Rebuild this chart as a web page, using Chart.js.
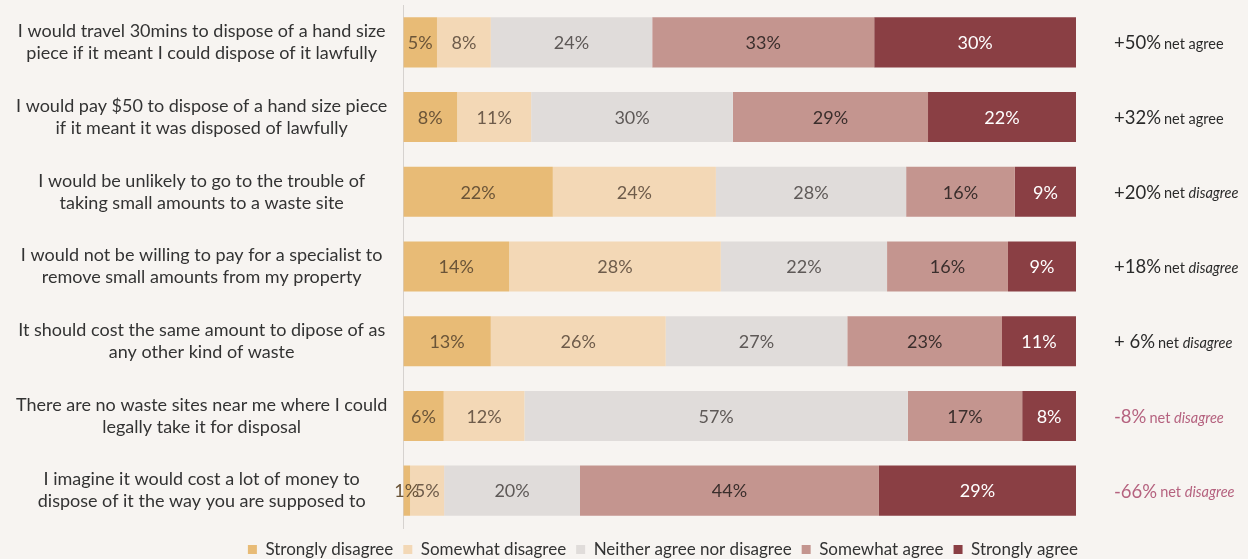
<!DOCTYPE html>
<html>
<head>
<meta charset="utf-8">
<script src="https://cdn.jsdelivr.net/npm/chart.js@4"></script>
<style>
  html, body { margin: 0; padding: 0; background: #f7f4f1; }
  #wrap { width: 1248px; height: 559px; position: relative; }
</style>
</head>
<body>
<div id="wrap"><canvas id="c"></canvas></div>
<script>
const categories = [
  ['I would travel 30mins to dispose of a hand size', 'piece if it meant I could dispose of it lawfully'],
  ['I would pay $50 to dispose of a hand size piece', 'if it meant it was disposed of lawfully'],
  ['I would be unlikely to go to the trouble of', 'taking small amounts to a waste site'],
  ['I would not be willing to pay for a specialist to', 'remove small amounts from my property'],
  ['It should cost the same amount to dipose of as', 'any other kind of waste'],
  ['There are no waste sites near me where I could', 'legally take it for disposal'],
  ['I imagine it would cost a lot of money to', 'dispose of it the way you are supposed to']
];
const seriesNames = ['Strongly disagree', 'Somewhat disagree', 'Neither agree nor disagree', 'Somewhat agree', 'Strongly agree'];
const stronglyDisagree = [5, 8, 22, 14, 13, 6, 1];
const somewhatDisagree = [8, 11, 24, 28, 26, 12, 5];
const neither = [24, 30, 28, 22, 27, 57, 20];
const somewhatAgree = [33, 29, 16, 16, 23, 17, 44];
const stronglyAgree = [30, 22, 9, 9, 11, 8, 29];
const netValues = ['+50%', '+32%', '+20%', '+18%', '+ 6%', '-8%', '-66%'];
const netWords = ['agree', 'agree', 'disagree', 'disagree', 'disagree', 'disagree', 'disagree'];

const colors = ['#e8bb76', '#f3d8b6', '#e0dcda', '#c4958f', '#8a3f44'];
const labelColors = ['#6a5438', '#6e5c4b', '#5e5957', '#3a2e2c', '#ffffff'];
const seriesValues = [stronglyDisagree, somewhatDisagree, neither, somewhatAgree, stronglyAgree];
const totals = categories.map((_, i) => seriesValues.reduce((s, arr) => s + arr[i], 0));

const FONT = 'Lato, "Noto Sans", sans-serif';

const datasets = seriesValues.map((vals, k) => ({
  label: seriesNames[k],
  data: vals.map((v, i) => v / totals[i] * 100),
  raw: vals,
  backgroundColor: colors[k],
  borderWidth: 0,
  barPercentage: 0.67,
  categoryPercentage: 1
}));

const barLabels = {
  id: 'barLabels',
  afterDatasetsDraw(chart) {
    const ctx = chart.ctx;
    ctx.save();
    ctx.font = '18px ' + FONT;
    ctx.textAlign = 'center';
    ctx.textBaseline = 'middle';
    chart.data.datasets.forEach((ds, k) => {
      const meta = chart.getDatasetMeta(k);
      meta.data.forEach((bar, i) => {
        const x = (bar.x + bar.base) / 2;
        ctx.fillStyle = labelColors[k];
        ctx.fillText(ds.raw[i] + '%', x, bar.y + 1);
      });
    });
    ctx.restore();
  }
};

const netLabels = {
  id: 'netLabels',
  afterDraw(chart) {
    const ctx = chart.ctx;
    const y = chart.scales.y;
    ctx.save();
    ctx.textBaseline = 'middle';
    ctx.textAlign = 'left';
    categories.forEach((_, i) => {
      const py = y.getPixelForValue(i) + 1;
      const neg = netValues[i].startsWith('-');
      ctx.fillStyle = neg ? '#b5627f' : '#2a2a2a';
      let x = 1114;
      ctx.font = '18.5px ' + FONT;
      ctx.fillText(netValues[i], x, py);
      x += ctx.measureText(netValues[i]).width + 3;
      ctx.font = '14.5px ' + FONT;
      ctx.fillText('net ', x, py + 1);
      x += ctx.measureText('net ').width;
      ctx.font = (netWords[i] === 'disagree' ? 'italic ' : '') + '14.5px ' + FONT;
      ctx.fillText(netWords[i], x, py + 1);
    });
    ctx.restore();
  }
};

const legendShift = {
  id: 'legendShift',
  afterLayout(chart) {
    if (chart.legend) {
      chart.legend.left += 12;
      chart.legend.right += 12;
      chart.legend.top += 3;
      chart.legend.bottom += 3;
    }
  }
};

new Chart(document.getElementById('c'), {
  type: 'bar',
  data: { labels: categories, datasets },
  options: {
    indexAxis: 'y',
    responsive: true,
    maintainAspectRatio: false,
    animation: false,
    layout: { padding: { top: 5, right: 172, left: 0, bottom: -6 } },
    scales: {
      x: { stacked: true, min: 0, max: 100, display: false },
      y: {
        stacked: true,
        grid: { display: false, drawTicks: false },
        border: { display: true, color: '#d6d2cf', width: 1 },
        ticks: {
          crossAlign: 'center',
          padding: 16,
          color: '#333333',
          font: { family: FONT, size: 18, lineHeight: 1.22 }
        },
        afterFit(scale) {
          scale.paddingTop = 0;
          scale.paddingBottom = 0;
        }
      }
    },
    plugins: {
      legend: {
        position: 'bottom',
        align: 'end',
        labels: {
          boxWidth: 9,
          boxHeight: 9,
          padding: 10,
          color: '#333333',
          font: { family: FONT, size: 17 }
        }
      },
      tooltip: { enabled: false }
    }
  },
  plugins: [barLabels, netLabels, legendShift]
});
</script>
</body>
</html>
